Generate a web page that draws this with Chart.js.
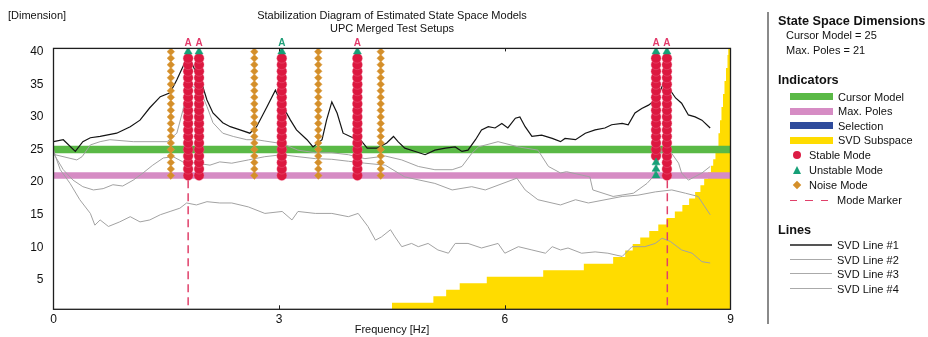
<!DOCTYPE html>
<html>
<head>
<meta charset="utf-8">
<script src="https://cdn.jsdelivr.net/npm/chart.js@4.4.1/dist/chart.umd.min.js"></script>
<style>
  body { margin: 0; background: #fff; }
  #wrap { position: relative; width: 928px; height: 337px; font-family: "Liberation Sans", Arial, sans-serif; color: #111; overflow: hidden; }
  #chart { position: absolute; left: 0; top: 0; }
  .t { position: absolute; font-size: 11px; line-height: 14px; white-space: nowrap; }
  .h { font-weight: bold; font-size: 12.7px; }
  .sw { position: absolute; left: 790px; width: 43px; height: 7px; }
  .ln { position: absolute; left: 790px; width: 42px; }
  .vline { position: absolute; width: 1.5px; background: #8a8a8a; }
</style>
</head>
<body>
<div id="wrap">
  <canvas id="chart" width="928" height="337"></canvas>

  <div class="vline" style="left:767px;top:12px;height:312px"></div>
  <div class="t h" style="left:778px;top:14px">State Space Dimensions</div>
  <div class="t" style="left:786px;top:28px">Cursor Model = 25</div>
  <div class="t" style="left:786px;top:42.5px">Max. Poles = 21</div>

  <div class="t h" style="left:778px;top:73px">Indicators</div>
  <div class="sw" style="top:93px;background:#5ab946"></div>
  <div class="t" style="left:838px;top:89.5px">Cursor Model</div>
  <div class="sw" style="top:107.5px;background:#d68cc4"></div>
  <div class="t" style="left:838px;top:104px">Max. Poles</div>
  <div class="sw" style="top:122px;background:#2f4b9c"></div>
  <div class="t" style="left:838px;top:118.5px">Selection</div>
  <div class="sw" style="top:136.5px;background:#ffdc00"></div>
  <div class="t" style="left:838px;top:133px">SVD Subspace</div>

  <div style="position:absolute;left:793px;top:151px;width:8px;height:8px;border-radius:50%;background:#dc1c44"></div>
  <div class="t" style="left:809px;top:148px">Stable Mode</div>
  <div style="position:absolute;left:792.5px;top:165.5px;width:0;height:0;border-left:4.5px solid transparent;border-right:4.5px solid transparent;border-bottom:8px solid #16a077"></div>
  <div class="t" style="left:809px;top:163px">Unstable Mode</div>
  <div style="position:absolute;left:794px;top:182px;width:6px;height:6px;background:#d48f2a;transform:rotate(45deg)"></div>
  <div class="t" style="left:809px;top:178px">Noise Mode</div>
  <div class="ln" style="top:199.5px;height:1.5px;background:repeating-linear-gradient(to right,#e0406a 0 7px,transparent 7px 15.5px)"></div>
  <div class="t" style="left:837px;top:193px">Mode Marker</div>

  <div class="t h" style="left:778px;top:223px">Lines</div>
  <div class="ln" style="top:244px;height:2px;background:#555"></div>
  <div class="t" style="left:837px;top:238px">SVD Line #1</div>
  <div class="ln" style="top:258.5px;height:1px;background:#aaa"></div>
  <div class="t" style="left:837px;top:252.5px">SVD Line #2</div>
  <div class="ln" style="top:273px;height:1px;background:#aaa"></div>
  <div class="t" style="left:837px;top:267px">SVD Line #3</div>
  <div class="ln" style="top:287.5px;height:1px;background:#aaa"></div>
  <div class="t" style="left:837px;top:281.5px">SVD Line #4</div>
</div>

<script>
// axis ticks
const xTicks = [0, 3, 6, 9];
const yTicks = [5, 10, 15, 20, 25, 30, 35, 40];

// horizontal indicators
const cursorModel = 25;
const maxPoles = 21;

// mode columns: [frequency, first dimension, last dimension]
const stableCols = [[1.79, 21, 39], [1.935, 21, 39], [3.035, 21, 39], [4.04, 21, 39], [8.01, 24, 39], [8.155, 21, 39]];
const unstableCols = [[1.79, 40, 40], [1.935, 40, 40], [3.035, 40, 40], [4.04, 40, 40], [8.01, 40, 40], [8.01, 21, 23], [8.155, 40, 40]];
const noiseCols = [[1.56, 21, 40], [2.67, 21, 40], [3.52, 21, 40], [4.35, 21, 40]];

// "A" labels above the selected modes (true = stable colour)
const modeLabelFreqs = [1.79, 1.935, 3.035, 4.04, 8.01, 8.155];
const modeLabelStable = [true, true, false, true, true, true];

// dashed mode markers
const modeMarkerFreqs = [1.79, 8.16];
const modeMarkerSpan = [20.3, 0.5];

// SVD subspace steps: [start frequency, dimension]
const svdSubspace = [[4.50, 1], [5.05, 2], [5.22, 3], [5.40, 4], [5.76, 5], [6.51, 6], [7.05, 7], [7.44, 8],
  [7.60, 9], [7.70, 10], [7.80, 11], [7.92, 12], [8.04, 13], [8.15, 14], [8.26, 15], [8.36, 16], [8.45, 17],
  [8.53, 18], [8.60, 19], [8.65, 20], [8.70, 21], [8.74, 22], [8.77, 23], [8.80, 24], [8.82, 25], [8.84, 27],
  [8.86, 29], [8.88, 31], [8.90, 33], [8.92, 35], [8.94, 37], [8.96, 39], [8.97, 40]];

// SVD lines: [frequency, value]
const svdLine1 = [[0, 26.2], [0.13, 26.5], [0.29, 24.7], [0.39, 26.2], [0.49, 26.8], [0.62, 27.0], [0.84, 27.5],
  [1.02, 28.5], [1.15, 29.5], [1.28, 31.4], [1.42, 33.1], [1.55, 33.7], [1.64, 35.7], [1.72, 37.7], [1.79, 39.5],
  [1.88, 37.2], [1.97, 35.2], [2.04, 32.6], [2.12, 30.6], [2.25, 29.1], [2.35, 28.5], [2.48, 28.0], [2.61, 27.5],
  [2.70, 28.5], [2.84, 31.6], [2.95, 34.1], [3.05, 31.6], [3.15, 29.5], [3.23, 28.0], [3.37, 26.5], [3.45, 25.4],
  [3.57, 26.5], [3.63, 29.5], [3.70, 32.3], [3.77, 30.6], [3.85, 27.5], [3.98, 26.8], [4.08, 26.5], [4.17, 25.2],
  [4.30, 25.2], [4.43, 26.0], [4.52, 27.0], [4.58, 26.2], [4.67, 25.2], [4.81, 24.7], [4.94, 24.2], [5.07, 24.9],
  [5.21, 25.2], [5.34, 25.4], [5.43, 24.7], [5.51, 24.9], [5.61, 26.5], [5.69, 28.0], [5.78, 28.5], [5.87, 28.3],
  [5.96, 29.0], [6.04, 28.3], [6.14, 29.8], [6.20, 30.0], [6.27, 28.5], [6.36, 27.0], [6.49, 27.2], [6.63, 26.7],
  [6.74, 26.2], [6.80, 26.7], [6.94, 26.5], [7.07, 27.5], [7.20, 28.0], [7.33, 28.3], [7.42, 28.8], [7.56, 29.0],
  [7.64, 28.8], [7.73, 30.6], [7.82, 31.3], [7.91, 31.8], [8.00, 32.6], [8.07, 34.1], [8.11, 35.2], [8.18, 34.4],
  [8.27, 32.9], [8.35, 32.1], [8.44, 30.3], [8.53, 30.0], [8.62, 29.5], [8.73, 28.3]];

const svdLine2 = [[0, 25.0], [0.02, 24.2], [0.31, 23.4], [0.38, 23.9], [0.49, 25.7], [0.62, 26.2], [0.75, 26.5],
  [1.06, 26.2], [1.51, 26.2], [1.64, 27.5], [1.72, 31.0], [1.79, 35.0], [1.95, 34.1], [2.04, 31.6], [2.12, 29.1],
  [2.25, 27.5], [2.39, 27.0], [2.57, 26.5], [2.70, 26.5], [2.81, 26.3], [3.04, 25.9], [3.25, 24.9], [3.48, 24.5],
  [3.70, 24.5], [3.92, 24.2], [4.14, 23.6], [4.41, 24.0], [4.63, 23.4], [4.85, 22.4], [5.07, 21.9], [5.30, 21.9],
  [5.43, 22.4], [5.56, 24.4], [5.65, 25.4], [5.91, 26.2], [6.18, 25.4], [6.44, 24.9], [6.58, 22.4], [6.74, 21.4],
  [6.82, 21.6], [7.13, 20.8], [7.17, 18.8], [7.44, 17.8], [7.71, 18.3], [7.89, 19.8], [7.97, 20.8], [8.09, 24.9],
  [8.17, 25.2], [8.31, 22.9], [8.35, 21.4], [8.44, 20.3], [8.62, 21.4], [8.73, 22.4]];

const svdLine3 = [[0, 24.4], [0.13, 21.9], [0.26, 20.3], [0.39, 19.3], [0.53, 18.8], [0.66, 19.0], [0.79, 19.6],
  [0.92, 19.4], [1.06, 20.3], [1.19, 21.4], [1.32, 22.6], [1.46, 23.7], [1.59, 23.9], [1.72, 23.1], [1.90, 22.9],
  [2.08, 22.6], [2.21, 23.1], [2.37, 22.9], [2.59, 23.4], [2.81, 23.9], [3.04, 24.2], [3.25, 23.9], [3.48, 23.6],
  [3.70, 23.5], [3.92, 23.2], [4.14, 22.9], [4.41, 22.6], [4.67, 20.8], [5.07, 19.8], [5.30, 18.8], [5.56, 19.3],
  [5.74, 18.8], [6.16, 20.6], [6.27, 18.8], [6.44, 17.3], [6.74, 16.5], [6.94, 17.3], [7.11, 16.8], [7.56, 17.8],
  [7.77, 18.0], [8.00, 18.5], [8.22, 18.8], [8.40, 18.3], [8.57, 17.8], [8.66, 16.2], [8.73, 15.0]];

const svdLine4 = [[0, 24.8], [0.09, 21.9], [0.22, 19.8], [0.35, 17.3], [0.49, 15.2], [0.55, 13.4], [0.62, 14.2],
  [0.73, 13.2], [0.88, 13.9], [1.02, 14.7], [1.15, 13.9], [1.28, 14.2], [1.42, 15.0], [1.55, 15.5], [1.68, 16.0],
  [1.77, 16.8], [1.90, 16.5], [2.04, 17.0], [2.21, 16.8], [2.37, 16.8], [2.59, 16.2], [2.81, 15.2], [3.04, 15.5],
  [3.17, 14.2], [3.25, 15.5], [3.48, 15.2], [3.70, 15.2], [3.92, 14.7], [4.05, 15.2], [4.18, 13.2], [4.28, 11.1],
  [4.36, 11.6], [4.48, 12.7], [4.54, 11.6], [4.63, 10.1], [4.76, 10.6], [4.85, 10.1], [4.98, 10.6], [5.11, 9.6],
  [5.25, 9.1], [5.34, 10.6], [5.51, 10.6], [5.69, 9.9], [5.91, 10.6], [6.00, 9.1], [6.18, 10.1], [6.36, 9.6],
  [6.54, 9.1], [6.63, 10.1], [6.74, 9.6], [6.84, 9.9], [7.02, 9.1], [7.20, 9.3], [7.37, 9.1], [7.56, 8.6],
  [7.69, 10.1], [7.86, 10.1], [8.00, 10.6], [8.09, 11.4], [8.20, 10.9], [8.35, 9.6], [8.49, 9.1], [8.62, 7.8],
  [8.73, 7.6]];

const FONT = '"Liberation Sans", Arial, sans-serif';
Chart.defaults.font.family = FONT;

const pts = arr => arr.map(p => ({ x: p[0], y: p[1] }));
// one marker per model order in each column
const columnPts = cols => {
  const out = [];
  cols.forEach(c => { for (let d = c[1]; d <= c[2]; d++) out.push({ x: c[0], y: d }); });
  return out;
};
const xMin = xTicks[0], xMax = xTicks[xTicks.length - 1];

const datasets = [];

// markers on top
datasets.push({ label: 'Unstable Mode', data: columnPts(unstableCols), showLine: false, order: 0,
  pointStyle: 'triangle', pointRadius: 4.6, pointBackgroundColor: '#16a077', pointBorderColor: '#16a077', pointBorderWidth: 0.5 });
datasets.push({ label: 'Stable Mode', data: columnPts(stableCols), showLine: false, order: 1,
  pointStyle: 'circle', pointRadius: 5, pointBackgroundColor: '#dc1840', pointBorderColor: 'rgba(240,120,150,0.7)', pointBorderWidth: 0.5 });
datasets.push({ label: 'Noise Mode', data: columnPts(noiseCols), showLine: false, order: 2,
  pointStyle: 'rectRot', pointRadius: 3.8, pointBackgroundColor: '#d48f2a', pointBorderColor: '#dc9c40', pointBorderWidth: 0.5 });

modeMarkerFreqs.forEach(f => {
  datasets.push({ label: 'Mode Marker', data: modeMarkerSpan.map(v => ({ x: f, y: v })), order: 3,
    borderColor: '#e0406a', borderWidth: 1.5, borderDash: [8, 5], pointRadius: 0 });
});

[svdLine1, svdLine2, svdLine3, svdLine4].forEach((line, i) => {
  datasets.push({ label: 'SVD Line #' + (i + 1), data: pts(line), order: 4 + (i === 0 ? 0 : 1),
    borderColor: i === 0 ? '#141414' : '#a2a2a2', borderWidth: i === 0 ? 1.2 : 1, pointRadius: 0, tension: 0 });
});

datasets.push({ label: 'Cursor Model', data: [{ x: xMin, y: cursorModel }, { x: xMax, y: cursorModel }], order: 7,
  borderColor: '#5ab946', borderWidth: 7.5, pointRadius: 0, borderCapStyle: 'butt' });
datasets.push({ label: 'Max. Poles', data: [{ x: xMin, y: maxPoles }, { x: xMax, y: maxPoles }], order: 8,
  borderColor: '#d68cc4', borderWidth: 6.5, pointRadius: 0, borderCapStyle: 'butt' });

// cells span +-0.5 around each integer dimension
const subspacePts = svdSubspace.map(s => ({ x: s[0], y: s[1] + 0.5 }));
subspacePts.push({ x: xMax, y: svdSubspace[svdSubspace.length - 1][1] + 0.5 });
datasets.push({ label: 'SVD Subspace', data: subspacePts, order: 10, stepped: true,
  borderWidth: 0, borderColor: '#ffdc00', backgroundColor: '#ffdc00', fill: 'start', pointRadius: 0 });

const decor = {
  id: 'decor',
  afterDraw(chart) {
    const { ctx, chartArea: a, scales: { x } } = chart;
    ctx.save();
    ctx.strokeStyle = '#1e1e1e';
    ctx.lineWidth = 1.3;
    ctx.strokeRect(a.left, a.top, a.right - a.left, a.bottom - a.top);
    ctx.lineWidth = 1;
    xTicks.slice(1, -1).forEach(v => {
      const px = Math.round(x.getPixelForValue(v)) + 0.5;
      ctx.beginPath();
      ctx.moveTo(px, a.bottom); ctx.lineTo(px, a.bottom - 4);
      ctx.moveTo(px, a.top); ctx.lineTo(px, a.top + 3);
      ctx.stroke();
    });

    ctx.font = 'bold 10px ' + FONT;
    ctx.textAlign = 'center';
    ctx.textBaseline = 'bottom';
    modeLabelFreqs.forEach((f, i) => {
      ctx.fillStyle = modeLabelStable[i] ? '#e23a6a' : '#1f9e78';
      ctx.fillText('A', x.getPixelForValue(f), a.top);
    });

    ctx.fillStyle = '#111';
    ctx.font = '11px ' + FONT;
    ctx.textBaseline = 'middle';
    const cx = (a.left + a.right) / 2;
    ctx.fillText('Stabilization Diagram of Estimated State Space Models', cx, 16);
    ctx.fillText('UPC Merged Test Setups', cx, 29);
    ctx.fillText('Frequency [Hz]', cx, 330);
    ctx.textAlign = 'left';
    ctx.fillText('[Dimension]', 8, 16);
    ctx.restore();
  }
};

new Chart(document.getElementById('chart'), {
  type: 'line',
  data: { datasets },
  options: {
    responsive: false,
    animation: false,
    events: [],
    layout: { padding: { left: 0, right: 197.5, top: 48.4, bottom: 0 } },
    plugins: { legend: { display: false }, tooltip: { enabled: false }, title: { display: false } },
    scales: {
      x: {
        type: 'linear', min: xMin, max: xMax,
        grid: { display: false, drawTicks: false }, border: { display: false },
        ticks: { padding: 3, color: '#111', font: { size: 12 }, maxRotation: 0, autoSkip: false },
        afterBuildTicks: s => { s.ticks = xTicks.map(v => ({ value: v })); },
        afterFit: s => { s.height = 27.7; }
      },
      y: {
        type: 'linear', min: 0.5, max: 40.5,
        grid: { display: false, drawTicks: false }, border: { display: false },
        ticks: { padding: 10, color: '#111', font: { size: 12 }, autoSkip: false },
        afterBuildTicks: s => { s.ticks = yTicks.map(v => ({ value: v })); },
        afterFit: s => { s.width = 53.5; }
      }
    }
  },
  plugins: [decor]
});
</script>
</body>
</html>
